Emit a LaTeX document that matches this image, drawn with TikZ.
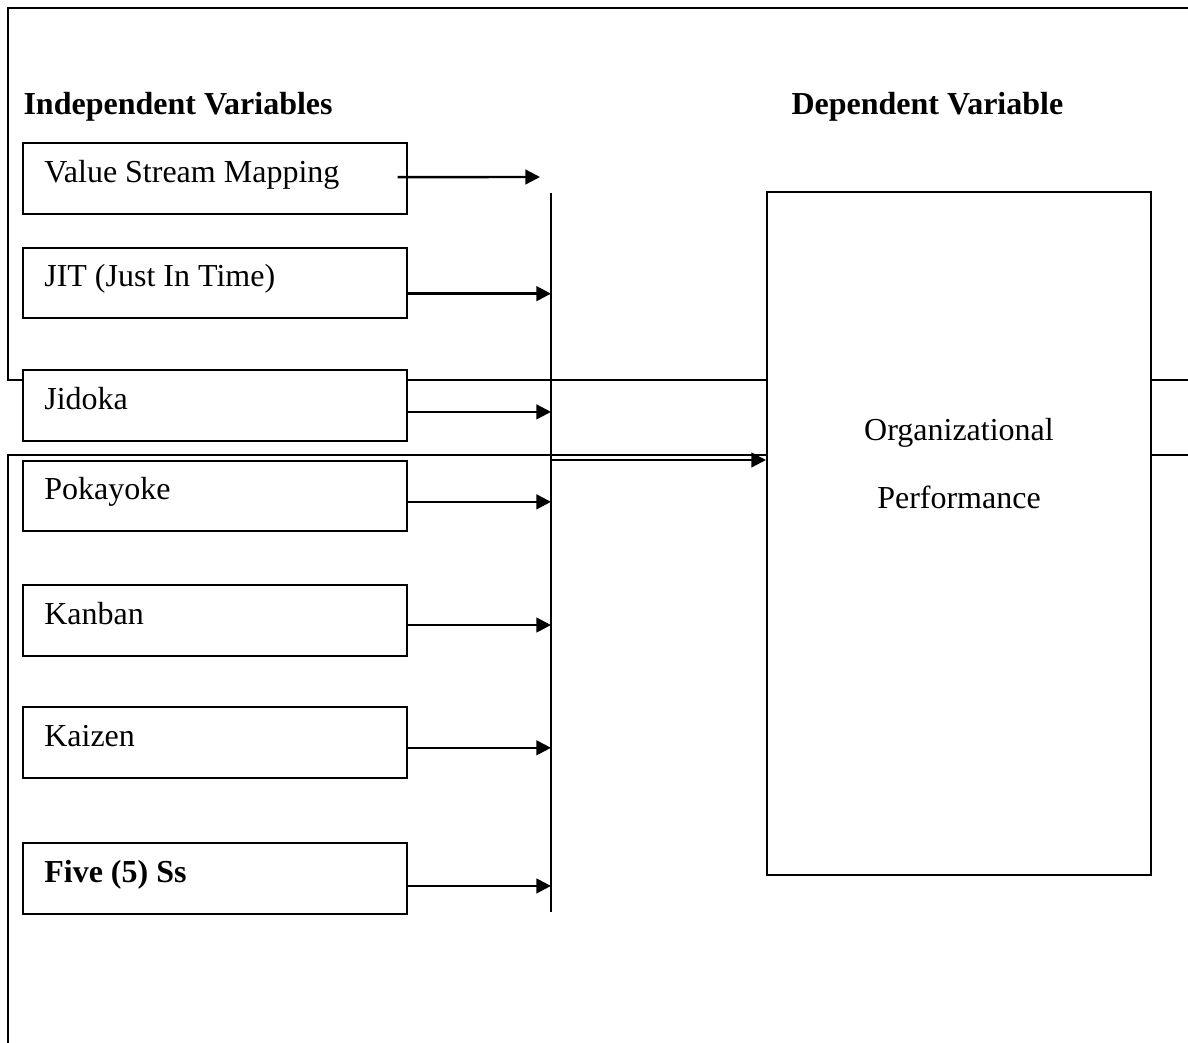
\documentclass[tikz,border=0pt]{standalone}
\usepackage{fontspec}
\setmainfont{Liberation Serif}
\usetikzlibrary{arrows.meta}
\tikzset{
  varbox/.style={draw, fill=white, line width=0.75pt, text width=128pt, inner xsep=7.9pt,
    minimum height=26.6pt, align=flush left, text height=8pt, text depth=5pt},
  feed/.style={line width=0.9pt, -{Triangle[length=5.5pt,width=5.5pt]}},
  frame/.style={line width=0.75pt},
  heading/.style={font=\fontsize{12pt}{14pt}\selectfont\bfseries}
}
\begin{document}
\begin{tikzpicture}[x=0.375pt, y=-0.375pt, font=\fontsize{12pt}{14pt}\selectfont]
\useasboundingbox (0,0) rectangle (1188,1043);
% frame, split over two pages
\draw[frame] (1188,8) -- (8,8) -- (8,380) -- (1188,380);
\draw[frame] (1188,455) -- (8,455) -- (8,1043);
% headings
\node[anchor=west, inner xsep=0pt, heading] (indep) at (23,107) {Independent Variables};
\node[anchor=west, inner xsep=0pt, heading] (dep) at (791,107) {Dependent Variable};
% independent variables
\node[varbox] (vsm) at (215,178.5) {Value Stream Mapping};
\node[varbox] (jit) at (215,283) {JIT (Just In Time)};
\node[varbox] (jidoka) at (215,405.5) {Jidoka};
\node[varbox] (pokayoke) at (215,496) {Pokayoke};
\node[varbox] (kanban) at (215,620.5) {Kanban};
\node[varbox] (kaizen) at (215,742.5) {Kaizen};
\node[varbox, heading] (fives) at (215,878.5) {Five (5) Ss};
% dependent variable
\node[draw, fill=white, line width=0.75pt, minimum width=144pt, minimum height=256.1pt] (perf) at (959,533.5) {};
\node[align=center, inner sep=0pt, font=\fontsize{12pt}{25.5pt}\selectfont] (perftext) at (959,464) {Organizational\\Performance};
% collecting line
\coordinate (bustop) at (551,193);
\coordinate (busbot) at (551,912);
\coordinate (busout) at (551,460);
\coordinate (vsmtip) at (540,177);
\draw[frame] (bustop) -- (busbot);
% arrows
\draw[feed] ([xshift=-3.75pt,yshift=0.5pt]vsm.east) -- (vsmtip);
\draw[feed] ([yshift=-4pt]jit.east) -- ([yshift=-4pt]jit.east -| bustop);
\draw[feed] ([yshift=-2.4pt]jidoka.east) -- ([yshift=-2.4pt]jidoka.east -| bustop);
\draw[feed] ([yshift=-2.2pt]pokayoke.east) -- ([yshift=-2.2pt]pokayoke.east -| bustop);
\draw[feed] ([yshift=-1.7pt]kanban.east) -- ([yshift=-1.7pt]kanban.east -| bustop);
\draw[feed] ([yshift=-2pt]kaizen.east) -- ([yshift=-2pt]kaizen.east -| bustop);
\draw[feed] ([yshift=-2.8pt]fives.east) -- ([yshift=-2.8pt]fives.east -| bustop);
\draw[feed] (busout) -- (busout -| perf.west);
\end{tikzpicture}
\end{document}
